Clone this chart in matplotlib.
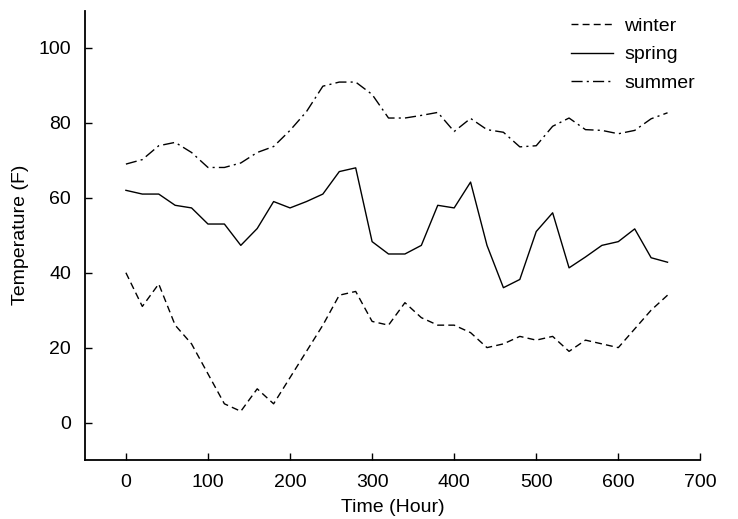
import matplotlib
matplotlib.use("Agg")
import matplotlib.pyplot as plt

plt.rcParams['font.family'] = ['Liberation Sans', 'DejaVu Sans']

hours = list(range(0, 661, 20))
winter = [40, 31, 37, 26, 21, 13, 5, 3, 9, 5, 12, 19, 26, 34, 35, 27, 26, 32, 28, 26,
          26, 24, 20, 21, 23, 22, 23, 19, 22, 21, 20, 25, 30, 34]
spring = [62, 61, 61, 58, 57.3, 53, 53, 47.3, 51.8, 59, 57.3, 59, 61, 67, 68, 48.3, 45, 45,
          47.3, 58, 57.3, 64.2, 47.3, 36, 38.2, 51, 56, 41.3, 44.2, 47.3, 48.3, 51.7, 44, 42.8]
summer = [69, 70.2, 73.9, 74.8, 72.1, 68.1, 68.1, 69.3, 72.1, 73.7, 78, 83, 89.8, 90.9, 90.9,
          87.6, 81.3, 81.3, 82, 82.8, 77.7, 81.2, 78.2, 77.5, 73.6, 73.9, 79.1, 81.3, 78.2, 78,
          77.1, 78, 81.1, 82.7]
labels = ['winter', 'spring', 'summer']

fig = plt.figure(figsize=(7.38, 5.19), dpi=100)
ax = fig.add_axes([0.115, 0.1137, 0.834, 0.866])

ax.plot(hours, winter, color='black', lw=1, linestyle=(0, (5, 3)), label=labels[0])
ax.plot(hours, spring, color='black', lw=1, linestyle='-', label=labels[1])
ax.plot(hours, summer, color='black', lw=1, linestyle=(0, (8, 3, 1.5, 3)), label=labels[2])

ax.set_xlim(-50, 700)
ax.set_ylim(-10, 110)
ax.set_xticks(range(0, 701, 100))
ax.set_yticks(range(0, 101, 20))
for s in ['top', 'right']:
    ax.spines[s].set_visible(False)
for s in ['left', 'bottom']:
    ax.spines[s].set_linewidth(1.3)
ax.tick_params(direction='in', length=5, width=1, labelsize=14, pad=10)
ax.set_xlabel('Time (Hour)', fontsize=14, labelpad=6)
ax.set_ylabel('Temperature (F)', fontsize=14, labelpad=7)

leg = ax.legend(loc='upper left', bbox_to_anchor=(0.76, 0.985), bbox_transform=fig.transFigure,
                frameon=False, fontsize=14, handlelength=2.2, handletextpad=0.55,
                labelspacing=0.55, borderpad=0)

fig.savefig('out.png', dpi=100)
